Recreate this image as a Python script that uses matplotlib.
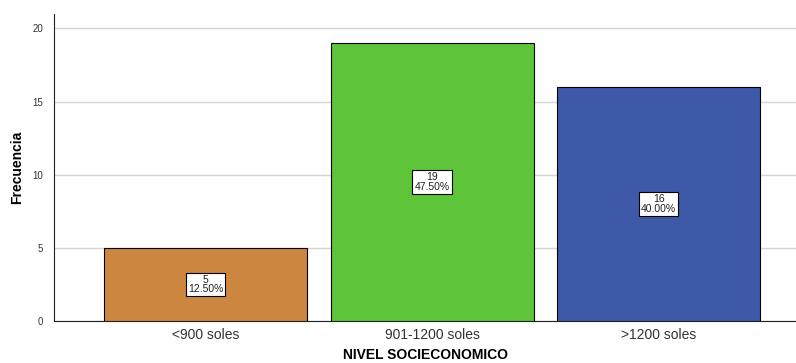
import matplotlib.pyplot as plt

plt.rcParams['font.family'] = ['Liberation Sans', 'DejaVu Sans']

categories = ['<900 soles', '901-1200 soles', '>1200 soles']
counts = [5, 19, 16]
percents = ['12.50%', '47.50%', '40.00%']
colors = ['#cd8640', '#5ec43a', '#3d59a8']

fig = plt.figure(figsize=(7.96, 3.63), dpi=100)
ax = fig.add_axes([0.068, 0.116, 0.932, 0.846])

x = range(len(categories))
ax.bar(x, counts, width=0.896, color=colors, edgecolor='black', linewidth=0.8, zorder=3)

for i, (c, p) in enumerate(zip(counts, percents)):
    ax.text(i, c / 2, f'{c}\n{p}', ha='center', va='center', fontsize=7.5,
            linespacing=0.9, zorder=4, color='#222222',
            bbox=dict(boxstyle='square,pad=0.2', fc='white', ec='black', lw=0.8))

ax.set_xlim(-0.669, 2.607)
ax.set_ylim(0, 21)
ax.set_yticks([0, 5, 10, 15, 20])
ax.set_xticks(list(x))
ax.set_xticklabels(categories, fontsize=10, color='#333333')
ax.tick_params(axis='y', labelsize=7, length=0, pad=8, colors='#333333')
ax.tick_params(axis='x', length=0, pad=5)
ax.yaxis.grid(True, color='#d4d4d4', linewidth=1, zorder=0)

for s in ['top', 'right']:
    ax.spines[s].set_visible(False)
ax.spines['left'].set_color('#222222')
ax.spines['bottom'].set_color('#222222')

ax.set_ylabel('Frecuencia', fontsize=10, fontweight='bold')
ax.set_xlabel('NIVEL SOCIECONOMICO', fontsize=10, fontweight='bold')
ax.yaxis.set_label_coords(-0.05, 0.5)
ax.xaxis.set_label_coords(0.5, -0.111)
ax.xaxis.label.set_va('center')
ax.yaxis.label.set_va('center')

fig.savefig('out.png', dpi=100)
